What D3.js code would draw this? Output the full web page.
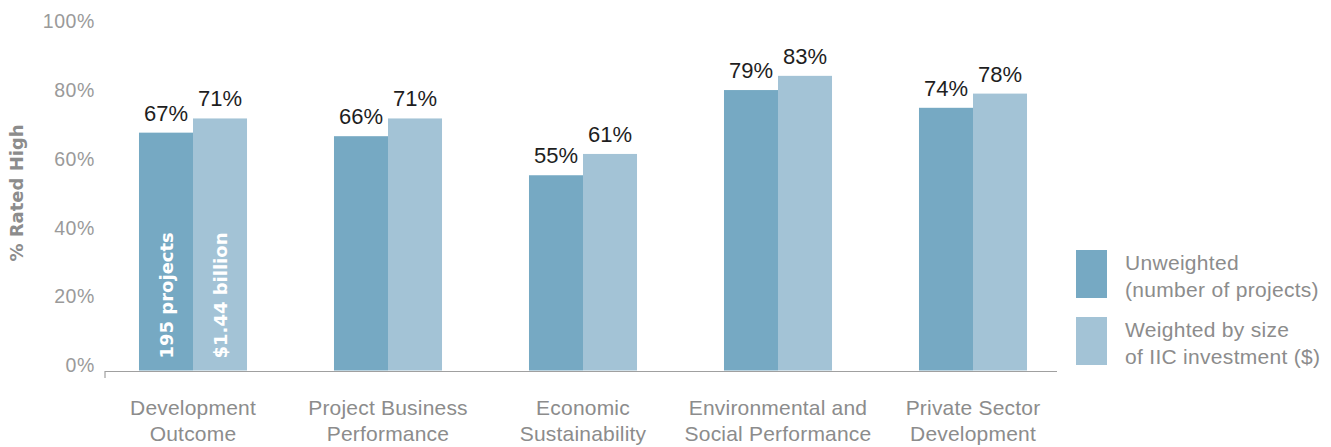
<!DOCTYPE html>
<html>
<head>
<meta charset="utf-8">
<script src="https://cdn.jsdelivr.net/npm/d3@7"></script>
<style>
  body { margin: 0; background: #fff; }
  text { font-family: "Liberation Sans", Arial, sans-serif; }
</style>
</head>
<body>
<div id="chart"></div>
<script>
//************* data ***************/
var categories = ["Development Outcome", "Project Business Performance", "Economic Sustainability",
                  "Environmental and Social Performance", "Private Sector Development"];
var catLines = [["Development", "Outcome"], ["Project Business", "Performance"], ["Economic", "Sustainability"],
                ["Environmental and", "Social Performance"], ["Private Sector", "Development"]];
var unweighted = [67, 66, 55, 79, 74];
var weighted = [71, 71, 61, 83, 78];
var seriesNames = ["Unweighted", "Weighted"];
var legendLines = [["Unweighted", "(number of projects)"], ["Weighted by size", "of IIC investment ($)"]];
var innerLabels = ["195 projects", "$1.44 billion"];
var yTicks = [0, 20, 40, 60, 80, 100];

//************* setup svg ***************/
var W = 1331, H = 447;
var svg = d3.select("#chart").append("svg")
    .attr("width", W).attr("height", H);

var colors = d3.scaleOrdinal().domain(seriesNames).range(["#76a9c3", "#a3c3d6"]);

//************* scales ***************/
var x0 = d3.scaleBand().domain(categories)
    .range([95.5, 1070.5])
    .paddingInner(0.446).paddingOuter(0.223);
var x1 = d3.scaleBand().domain(seriesNames).range([0, x0.bandwidth()]);
var y = d3.scaleLinear().domain([0, 100]).range([370.5, 15.5]);

//***************** axes *******************/
var yAxis = d3.axisLeft(y).tickValues(yTicks).tickSize(0).tickPadding(10)
    .tickFormat(function(d){ return d + "%"; });
var yg = svg.append("g").attr("transform", "translate(105,0)").call(yAxis);
yg.select(".domain").remove();
yg.selectAll("text")
    .attr("fill", "#9a9a9a")
    .attr("font-size", "19.5px")
    .attr("letter-spacing", "0.6px")
    .attr("dy", function(d){ return (0.34 + (-5.5 + 11 * d / 100) / 19.5) + "em"; });

// x baseline
svg.append("line")
    .attr("x1", 105).attr("x2", 1057)
    .attr("y1", 371.5).attr("y2", 371.5)
    .attr("stroke", "#a0a0a0").attr("stroke-width", 1.2);
svg.append("line")
    .attr("x1", 105).attr("x2", 105)
    .attr("y1", 371).attr("y2", 378)
    .attr("stroke", "#a0a0a0").attr("stroke-width", 1.2);

// category labels
var cl = svg.append("g").selectAll("text")
    .data(categories).enter().append("text")
    .attr("x", function(d){ return x0(d) + x0.bandwidth() / 2; })
    .attr("y", 415)
    .attr("text-anchor", "middle")
    .attr("fill", "#8c8c8c")
    .attr("font-size", "21px")
    .attr("letter-spacing", "0.2px");
cl.each(function(d, i){
  var t = d3.select(this);
  catLines[i].forEach(function(line, j){
    t.append("tspan")
      .attr("x", x0(d) + x0.bandwidth() / 2)
      .attr("dy", j === 0 ? 0 : 26)
      .text(line);
  });
});

// y label
svg.append("text")
    .attr("transform", "translate(23,193) rotate(-90)")
    .attr("text-anchor", "middle")
    .attr("fill", "#8c8c8c")
    .attr("font-size", "18px")
    .attr("font-weight", "bold")
    .style("font-family", "'DejaVu Sans', sans-serif")
    .text("% Rated High");

//***************** bars *******************/
var rows = categories.map(function(c, i){
  return {cat: c, vals: [
    {key: seriesNames[0], v: unweighted[i]},
    {key: seriesNames[1], v: weighted[i]}]};
});

var groups = svg.append("g").selectAll("g")
    .data(rows).enter().append("g")
    .attr("transform", function(d){ return "translate(" + x0(d.cat) + ",0)"; });

groups.selectAll("rect")
    .data(function(d){ return d.vals; })
    .enter().append("rect")
    .attr("x", function(d){ return x1(d.key); })
    .attr("width", x1.bandwidth())
    .attr("y", function(d){ return y(d.v); })
    .attr("height", function(d){ return y(0) - y(d.v); })
    .attr("fill", function(d){ return colors(d.key); });

groups.selectAll("text.val")
    .data(function(d){ return d.vals; })
    .enter().append("text")
    .attr("class", "val")
    .attr("x", function(d){ return x1(d.key) + x1.bandwidth() / 2; })
    .attr("y", function(d){ return y(d.v) - 12; })
    .attr("text-anchor", "middle")
    .attr("fill", "#1e1e1e")
    .attr("font-size", "22px")
    .text(function(d){ return d.v + "%"; });

// inner labels in the first group
svg.append("g").selectAll("text")
    .data(innerLabels).enter().append("text")
    .attr("transform", function(d, i){
      var cx = x0(categories[0]) + x1(seriesNames[i]) + x1.bandwidth() / 2 + 7;
      return "translate(" + cx + "," + (y(0) - 12) + ") rotate(-90)";
    })
    .attr("fill", "#fff")
    .attr("font-size", "18px")
    .attr("font-weight", "bold")
    .style("font-family", "'DejaVu Sans', sans-serif")
    .text(function(d){ return d; });

//************* legend ***************/
var legend = svg.append("g").attr("transform", "translate(1076,250)");
seriesNames.forEach(function(s, i){
  var row = legend.append("g").attr("transform", "translate(0," + (i * 67) + ")");
  row.append("rect")
    .attr("width", 31).attr("height", 48)
    .attr("fill", colors(s));
  legendLines[i].forEach(function(line, j){
    row.append("text")
      .attr("x", 49)
      .attr("y", 20 + j * 27)
      .attr("fill", "#8c8c8c")
      .attr("font-size", "21px")
      .attr("letter-spacing", "0.3px")
      .text(line);
  });
});
</script>
</body>
</html>
